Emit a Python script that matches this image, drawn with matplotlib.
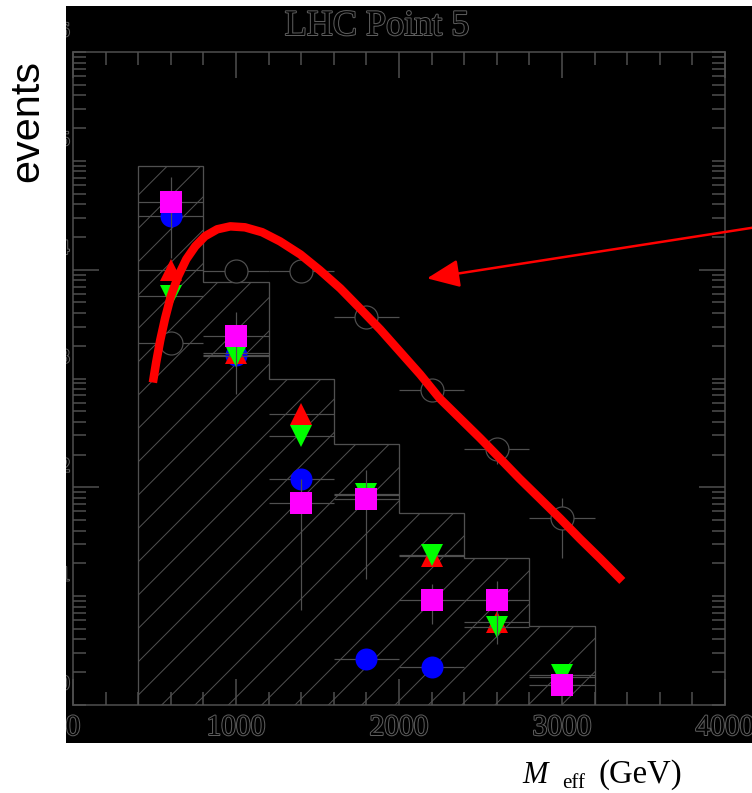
import matplotlib
matplotlib.use("Agg")
import matplotlib.pyplot as plt
import matplotlib.patheffects as pe
from matplotlib.patches import Rectangle
from matplotlib.ticker import FixedLocator, MultipleLocator, NullFormatter, LogFormatterMathtext
import numpy as np

DPI = 200
PT = 72 / DPI          # one pixel in points
GRAY = "#505050"

# hatched histogram
bin_edges = [400, 800, 1200, 1600, 2000, 2400, 2800, 3200]
hist_counts = [8.9e4, 7.65e3, 1.0e3, 252, 58.5, 22.5, 5.3]

bin_centers = [600, 1000, 1400, 1800, 2200, 2600, 3000]

# open circles (data)
open_vals = [2140, 9650, 9650, 3640, 776, 227, 52.6]
open_lo = [2140, 9650, 9650, 3640, 776, 165, 22.5]
open_hi = [2140, 9650, 9650, 3640, 776, 227, 80]

# coloured markers
blue_vals = [31000, 1660, 120, 2.65, 2.24, np.nan, np.nan]
red_vals = [9860, 1730, 476, 85, 23.5, 5.8, 1.8]
green_vals = [5680, 1600, 299, 86, 24, 5.2, 1.89]
magenta_vals = [41700, 2440, 72.3, 78.7, 9.25, 9.25, 1.53]
magenta_lo = [12700, 728, 7.5, 14.4, 5.6, 3.6, 1.53]
magenta_hi = [70800, 4050, 120, 145, 13, 13.7, 1.53]

# red curve
curve_x = [490, 510, 535, 565, 600, 645, 695, 750, 810, 885, 965, 1055, 1160,
           1270, 1395, 1515, 1640, 1760, 1885, 2005, 2130, 2250, 2375, 2500,
           2620, 2740, 2865, 2990, 3110, 3235, 3370]
curve_y = [918, 1400, 2240, 3570, 5690, 8690, 12450, 16400, 20300, 23500,
           25000, 24500, 22100, 18200, 13800, 9860, 6730, 4410, 2820, 1770,
           1090, 655, 429, 281, 184, 120, 78.7, 51.5, 33.7, 22.1, 13.8]

W, H = 752, 793
plt.rcParams["hatch.linewidth"] = 1.0 * PT
plt.rcParams["font.family"] = ["Liberation Serif", "DejaVu Serif"]

fig = plt.figure(figsize=(W / DPI, H / DPI), dpi=DPI, facecolor="white")

# black panel behind the plot
panel = Rectangle((66 / W, 1 - 743 / H), (W - 66) / W, (743 - 6) / H,
                  transform=fig.transFigure, facecolor="black", edgecolor="none", zorder=-5)
fig.patches.append(panel)

ax = fig.add_axes([73 / W, 1 - 705 / H, 652 / W, 653 / H])
ax.set_facecolor("black")
ax.set_yscale("log")
ax.set_xlim(0, 4000)
ax.set_ylim(1, 1e6)

for s in ax.spines.values():
    s.set_color(GRAY)
    s.set_linewidth(1.5 * PT)

ax.xaxis.set_major_locator(MultipleLocator(1000))
ax.xaxis.set_minor_locator(MultipleLocator(200))
ax.yaxis.set_major_locator(FixedLocator([10.0 ** k for k in range(7)]))
ax.yaxis.set_major_formatter(LogFormatterMathtext())
ax.yaxis.set_minor_locator(FixedLocator([m * 10.0 ** k for k in range(6) for m in range(2, 10)]))
ax.yaxis.set_minor_formatter(NullFormatter())

ax.tick_params(which="both", direction="in", top=True, right=True, color=GRAY,
               width=1.5 * PT, labelcolor="black")
ax.tick_params(axis="x", which="major", length=26 * PT, labelsize=10.6, pad=10 * PT)
ax.tick_params(axis="y", which="major", length=13 * PT, labelsize=10.6, pad=2 * PT)
ax.tick_params(which="minor", length=13 * PT)

# only some decades get the long tick
for tick, loc in zip(ax.yaxis.get_major_ticks(), ax.yaxis.get_majorticklocs()):
    if loc in (1e2, 1e4):
        tick.tick1line.set_markersize(26 * PT)
        tick.tick2line.set_markersize(26 * PT)

outline = [pe.withStroke(linewidth=2 * PT, foreground="#5e5e5e")]
for lab in ax.get_xticklabels() + ax.get_yticklabels():
    lab.set_path_effects(outline)
    lab.set_clip_path(panel)
for lab in ax.get_yticklabels():
    lab.set_va("bottom")

# hatched histogram
ax.stairs(hist_counts, bin_edges, baseline=1, fill=True, hatch="//",
          facecolor="none", edgecolor=GRAY, linewidth=1.3 * PT, zorder=1)

ebar = dict(ecolor=GRAY, elinewidth=1.2 * PT, capsize=0, linestyle="none")
ms = 22 * PT

ax.errorbar(bin_centers, open_vals, xerr=200,
            yerr=[np.subtract(open_vals, open_lo), np.subtract(open_hi, open_vals)],
            fmt="o", ms=23 * PT, mfc="black", mec=GRAY, mew=1.2 * PT, zorder=3, **ebar)
ax.errorbar(bin_centers, blue_vals, xerr=200, fmt="o", ms=ms, mfc="blue", mec="blue",
            mew=0, zorder=4, **ebar)
ax.errorbar(bin_centers, red_vals, xerr=200, fmt="^", ms=ms, mfc="red", mec="red",
            mew=0, zorder=5, **ebar)
ax.errorbar(bin_centers, green_vals, xerr=200, fmt="v", ms=ms, mfc="#00ff00", mec="#00ff00",
            mew=0, zorder=6, **ebar)
ax.errorbar(bin_centers, magenta_vals, xerr=200,
            yerr=[np.subtract(magenta_vals, magenta_lo), np.subtract(magenta_hi, magenta_vals)],
            fmt="s", ms=ms, mfc="#ff00ff", mec="#ff00ff", mew=0, zorder=7, **ebar)

# red curve
ax.plot(curve_x, curve_y, color="red", linewidth=8.5 * PT, solid_capstyle="butt", zorder=8)

# red arrow coming in from the right edge
ax.annotate("", xy=(2172, 8320), xycoords="data",
            xytext=(770 / W, 1 - 225 / H), textcoords="figure fraction",
            arrowprops=dict(arrowstyle="-|>,head_length=1.0,head_width=0.43",
                            color="red", lw=2.5 * PT, shrinkA=0, shrinkB=0,
                            mutation_scale=10),
            annotation_clip=False, zorder=9)

# title inside the black panel
fig.text(377 / W, 1 - 35 / H, "LHC Point 5", ha="center", va="baseline",
         fontsize=13, color="black", path_effects=outline)

# axis labels on white
fig.text(27 / W, 1 - 121 / H, "events", rotation=90, ha="center", va="center",
         fontsize=14.9, family=["Liberation Sans", "DejaVu Sans"], color="black")
fig.text(522 / W, 1 - 783 / H, "M", ha="left", va="baseline", fontsize=11,
         style="italic", color="black")
fig.text(562 / W, 1 - 788 / H, "eff", ha="left", va="baseline", fontsize=7.5, color="black")
fig.text(598 / W, 1 - 783 / H, "(GeV)", ha="left", va="baseline", fontsize=11.8, color="black")

fig.savefig("out.png", dpi=DPI, facecolor="white")
